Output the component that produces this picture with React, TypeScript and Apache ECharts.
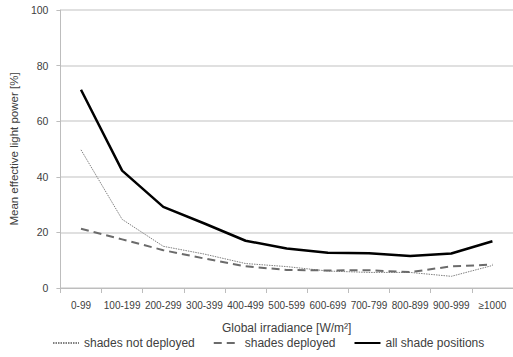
import React, { useEffect, useRef } from "react";
import * as echarts from "echarts";

const categories = ["0-99", "100-199", "200-299", "300-399", "400-499", "500-599", "600-699", "700-799", "800-899", "900-999", "≥1000"];
const notDeployed = [49.7, 24.7, 15, 12.2, 8.8, 7.7, 6.1, 5.6, 5.6, 4.2, 8.1];
const deployed = [21.3, 17.5, 13.6, 10.6, 7.8, 6.5, 6.3, 6.4, 5.7, 7.8, 8.4];
const allPositions = [71.3, 42.2, 29.2, 23.2, 17, 14.2, 12.7, 12.5, 11.5, 12.4, 16.8];
const yTicks = [0, 20, 40, 60, 80, 100];

export default function App() {
  const ref = useRef<HTMLDivElement>(null);
  useEffect(() => {
    const chart = echarts.init(ref.current!, undefined, { renderer: "svg" });
    const font = "Liberation Sans, Arial, sans-serif";
    chart.setOption({
      animation: false,
      textStyle: { fontFamily: font },
      grid: { left: 55, top: 10, width: 462, height: 278 },
      legend: {
        bottom: 3,
        left: 47,
        itemWidth: 26,
        itemHeight: 8,
        itemGap: 18,
        itemStyle: { opacity: 0 },
        textStyle: { fontSize: 12, color: "#404040", fontFamily: font },
        data: ["shades not deployed", "shades deployed", "all shade positions"],
      },
      xAxis: {
        type: "category",
        data: categories,
        boundaryGap: true,
        name: "Global irradiance [W/m²]",
        nameLocation: "middle",
        nameGap: 34,
        nameTextStyle: { fontSize: 12, color: "#404040" },
        axisLine: { lineStyle: { color: "#bdbdbd", width: 1 } },
        axisTick: { show: true, length: 5, lineStyle: { color: "#bdbdbd" } },
        axisLabel: { fontSize: 10, color: "#404040", margin: 12, interval: 0 },
      },
      yAxis: {
        type: "value",
        min: yTicks[0],
        max: yTicks[yTicks.length - 1],
        interval: 20,
        name: "Mean effective light power [%]",
        nameLocation: "middle",
        nameGap: 37,
        nameTextStyle: { fontSize: 11.5, color: "#404040" },
        axisLine: { show: true, lineStyle: { color: "#bdbdbd", width: 1 } },
        axisTick: { show: true, length: 4, lineStyle: { color: "#bdbdbd" } },
        axisLabel: { fontSize: 10.5, color: "#404040", margin: 12 },
        splitLine: { lineStyle: { color: "#d6d6d6", width: 1.5 } },
      },
      series: [
        {
          name: "shades not deployed",
          type: "line",
          data: notDeployed,
          symbol: "none",
          lineStyle: { color: "#808080", width: 1, type: [1.5, 1] },
          itemStyle: { color: "#808080" },
        },
        {
          name: "shades deployed",
          type: "line",
          data: deployed,
          symbol: "none",
          lineStyle: { color: "#6b6b6b", width: 2, type: [8, 5] },
          itemStyle: { color: "#6b6b6b" },
        },
        {
          name: "all shade positions",
          type: "line",
          data: allPositions,
          symbol: "none",
          lineStyle: { color: "#000000", width: 2.5 },
          itemStyle: { color: "#000000" },
        },
      ],
    });
    return () => chart.dispose();
  }, []);
  return <div ref={ref} style={{ width: 513, height: 357, position: "absolute", left: 0, top: 0, background: "#fff" }} />;
}
